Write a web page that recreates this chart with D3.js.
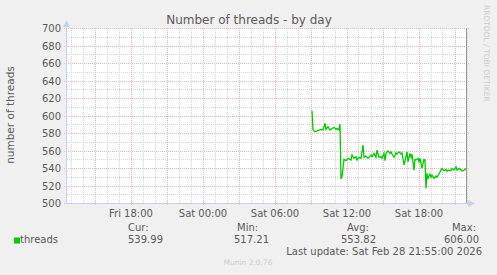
<!DOCTYPE html>
<html>
<head>
<meta charset="utf-8">
<script src="https://cdn.jsdelivr.net/npm/d3@7"></script>
<style>
  html, body { margin: 0; padding: 0; background: #f0f0f0; }
  svg { display: block; font-family: "DejaVu Sans", sans-serif; }
</style>
</head>
<body>
<div id="chart"></div>
<script>
// data (Sat 28 Feb 2026, 5 min samples)
const sampleTimes = ["09:05","09:10","09:20","09:30","09:50","10:00","10:10","10:15","10:25","10:35",
  "10:45","10:55","11:05","11:10","11:20","11:25","11:30","11:35","11:45","11:55",
  "12:05","12:20","12:25","12:35","12:45","12:50","13:00","13:10","13:20","13:25",
  "13:35","13:45","14:00","14:05","14:15","14:25","14:30","14:40","14:50","14:55",
  "15:05","15:10","15:15","15:25","15:35","15:40","15:45","15:55","16:05","16:10",
  "16:20","16:30","16:35","16:45","16:55","17:00","17:05","17:15","17:20","17:25",
  "17:35","17:40","17:45","17:55","18:00","18:05","18:15","18:20","18:25","18:30",
  "18:35","18:40","18:45","18:55","19:00","19:05","19:15","19:25","19:30","19:40",
  "19:50","19:55","20:05","20:15","20:20","20:30","20:40","20:45","20:55","21:05",
  "21:10","21:20","21:30","21:35","21:45","21:55"];
const threads = [606.0,584,582,583,584.7,584,591.5,584.7,587.7,584,
  585.8,587,584.7,585.8,584,590.8,528,530.6,550.5,548.9,
  551.6,549.7,555.4,551.6,553.4,549.7,552.7,551.6,566.8,552.7,
  554.2,551.6,555.4,553.4,557.3,552.7,561,552.7,553.4,551.6,
  557.3,548.9,557.3,560.3,557.3,559,556.5,552.7,558,556.5,
  559,556.5,558,544,553.4,559,547.7,557.3,552.7,556.5,
  538.2,550.5,549.7,551.6,547.7,551.6,540.2,545.9,550.5,549.7,
  517.21,534.5,528.8,533.7,530,532.5,528.8,531.4,530,533.7,
  538.2,540.2,537.5,539,537.1,538.2,537.5,540.2,538.2,542,
  538.2,540.2,538.2,537.1,538.2,539.99];

const xLabelDays = ["Fri 18:00", "Sat 00:00", "Sat 06:00", "Sat 12:00", "Sat 18:00"];
const legendHeads = ["Cur:", "Min:", "Avg:", "Max:"];
const legendValues = ["539.99", "517.21", "553.82", "606.00"];
const lastUpdate = "Last update: Sat Feb 28 21:55:00 2026";

const W = 497, H = 275;
const pl = 67, pr = 467, pt = 28, pb = 203;

const parse = d3.utcParse("%Y-%m-%dT%H:%M");
const data = sampleTimes.map((t, i) => ({t: parse("2026-02-28T" + t), v: threads[i]}));
const tStart = parse("2026-02-27T12:40"), tEnd = parse("2026-02-28T22:00");

const x = d3.scaleUtc().domain([tStart, tEnd]).range([pl, pr]);
const y = d3.scaleLinear().domain([500, 700]).range([pb + 0.5, pt + 0.5]);
const px = v => Math.floor(v) + 0.5;

const svg = d3.select("#chart").append("svg")
  .attr("width", W).attr("height", H);

svg.append("rect").attr("width", W).attr("height", H).attr("fill", "#f0f0f0");
svg.append("rect").attr("x", pl).attr("y", pt).attr("width", pr - pl).attr("height", pb - pt)
  .attr("fill", "#ffffff");

const grid = svg.append("g");
// minor grid
x.ticks(d3.utcHour.every(1)).forEach(t => {
  if (t.getUTCHours() % 3 === 0) return;
  grid.append("line").attr("x1", px(x(t))).attr("x2", px(x(t)))
    .attr("y1", pt).attr("y2", pb).attr("stroke", "#d6d6d6").attr("stroke-dasharray", "1,1");
});
d3.range(510, 700, 20).forEach(v => {
  grid.append("line").attr("x1", pl).attr("x2", pr)
    .attr("y1", px(y(v))).attr("y2", px(y(v))).attr("stroke", "#d6d6d6").attr("stroke-dasharray", "1,1");
});
// major grid
x.ticks(d3.utcHour.every(3)).forEach(t => {
  grid.append("line").attr("x1", px(x(t))).attr("x2", px(x(t)))
    .attr("y1", pt).attr("y2", pb + 2).attr("stroke", "#f2b0b0").attr("stroke-dasharray", "1,1");
});
d3.range(500, 701, 20).forEach(v => {
  grid.append("line").attr("x1", pl - 3).attr("x2", pr + 2)
    .attr("y1", px(y(v))).attr("y2", px(y(v))).attr("stroke", "#f2b0b0").attr("stroke-dasharray", "1,1");
});

// y tick labels
svg.append("g").selectAll("text").data(d3.range(500, 701, 20)).join("text")
  .attr("x", pl - 6).attr("y", d => y(d) + 3.5)
  .attr("text-anchor", "end").attr("font-size", 10).attr("fill", "#5a5a5a")
  .text(d => d);

// x tick labels
const labelTicks = x.ticks(d3.utcHour.every(6));
svg.append("g").selectAll("text").data(labelTicks).join("text")
  .attr("x", d => x(d)).attr("y", pb + 14)
  .attr("text-anchor", "middle").attr("font-size", 10).attr("fill", "#5a5a5a")
  .text((d, i) => xLabelDays[i]);

// right frame
svg.append("line").attr("x1", pr - 0.5).attr("x2", pr - 0.5).attr("y1", pt).attr("y2", pb)
  .attr("stroke", "#999");

// series
const line = d3.line().x(d => x(d.t)).y(d => y(d.v));
svg.append("path").datum(data)
  .attr("d", line).attr("fill", "none").attr("stroke", "#00cc00").attr("stroke-width", 1.3);

// axes with arrows
const axisColor = "#c8d0f8";
svg.append("line").attr("x1", pl - 0.5).attr("x2", pl - 0.5).attr("y1", pt - 6).attr("y2", pb + 1)
  .attr("stroke", axisColor);
svg.append("path").attr("d", `M${pl - 4},${pt - 1} L${pl - 0.5},${pt - 8} L${pl + 3},${pt - 1} Z`)
  .attr("fill", axisColor);
svg.append("line").attr("x1", pl - 1).attr("x2", pr + 4).attr("y1", pb + 0.5).attr("y2", pb + 0.5)
  .attr("stroke", axisColor);
svg.append("path").attr("d", `M${pr + 1},${pb - 3} L${pr + 8},${pb + 0.5} L${pr + 1},${pb + 4} Z`)
  .attr("fill", axisColor);

// title and y label
svg.append("text").attr("x", 249).attr("y", 24).attr("text-anchor", "middle")
  .attr("font-size", 12).attr("fill", "#5a5a5a").text("Number of threads - by day");
svg.append("text").attr("transform", "translate(13.5,115) rotate(-90)").attr("text-anchor", "middle")
  .attr("font-size", 10.5).attr("fill", "#5a5a5a").text("number of threads");
svg.append("text").attr("transform", "translate(484,5) rotate(90)").attr("text-anchor", "start")
  .attr("font-size", 7.5).attr("fill", "#cccccc").text("RRDTOOL / TOBI OETIKER");

// legend
svg.append("rect").attr("x", 14).attr("y", 237.5).attr("width", 6).attr("height", 6).attr("fill", "#00cc00");
svg.append("text").attr("x", 20).attr("y", 243).attr("font-size", 10).attr("fill", "#5a5a5a").text("threads");
const headX = [128, 237, 347, 476];
const valX = [128, 234, 341, 479];
legendHeads.forEach((h, i) => {
  svg.append("text").attr("x", headX[i]).attr("y", 231)
    .attr("text-anchor", i === 3 ? "end" : "start")
    .attr("font-size", 10).attr("fill", "#5a5a5a").text(h);
  svg.append("text").attr("x", valX[i]).attr("y", 243)
    .attr("text-anchor", i === 3 ? "end" : "start")
    .attr("font-size", 10).attr("fill", "#5a5a5a").text(legendValues[i]);
});
svg.append("text").attr("x", 482).attr("y", 255).attr("text-anchor", "end")
  .attr("font-size", 10).attr("fill", "#5a5a5a").text(lastUpdate);
svg.append("text").attr("x", 248).attr("y", 265).attr("text-anchor", "middle")
  .attr("font-size", 7.5).attr("fill", "#cccccc").text("Munin 2.0.76");
</script>
</body>
</html>
